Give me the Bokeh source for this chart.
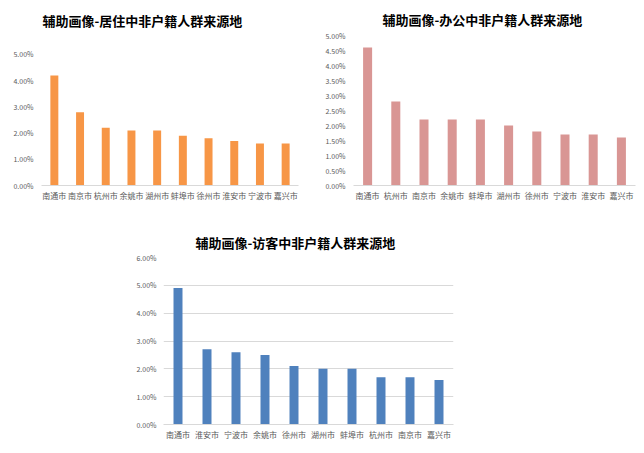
from bokeh.plotting import figure
from bokeh.layouts import column, row
from bokeh.models import (ColumnDataSource, FactorRange, Range1d, FixedTicker,
                          NumeralTickFormatter, Spacer, Title)
from bokeh.embed import file_html
from bokeh.resources import INLINE

# ---- data ----
title_live = "辅助画像-居住中非户籍人群来源地"
cities_live = ["南通市", "南京市", "杭州市", "余姚市", "湖州市", "蚌埠市", "徐州市", "淮安市", "宁波市", "嘉兴市"]
share_live = [0.042, 0.028, 0.022, 0.021, 0.021, 0.019, 0.018, 0.017, 0.016, 0.016]
ticks_live = [0.0, 0.01, 0.02, 0.03, 0.04, 0.05]

title_office = "辅助画像-办公中非户籍人群来源地"
cities_office = ["南通市", "杭州市", "南京市", "余姚市", "蚌埠市", "湖州市", "徐州市", "宁波市", "淮安市", "嘉兴市"]
share_office = [0.046, 0.028, 0.022, 0.022, 0.022, 0.020, 0.018, 0.017, 0.017, 0.016]
ticks_office = [0.0, 0.005, 0.01, 0.015, 0.02, 0.025, 0.03, 0.035, 0.04, 0.045, 0.05]

title_visit = "辅助画像-访客中非户籍人群来源地"
cities_visit = ["南通市", "淮安市", "宁波市", "余姚市", "徐州市", "湖州市", "蚌埠市", "杭州市", "南京市", "嘉兴市"]
share_visit = [0.049, 0.027, 0.026, 0.025, 0.021, 0.020, 0.020, 0.017, 0.017, 0.016]
ticks_visit = [0.0, 0.01, 0.02, 0.03, 0.04, 0.05, 0.06]

FONT = "Noto Sans CJK SC"


def make_chart(title, cats, vals, ticks, y_end, color, w, h, bl, br, bt, bb,
               t_off, t_stand, grid, ystand, bar_w):
    src = ColumnDataSource(dict(c=cats, v=vals))
    p = figure(width=w, height=h, output_backend="svg", toolbar_location=None,
               x_range=FactorRange(*cats, range_padding=0),
               y_range=Range1d(0, y_end),
               min_border_left=bl, min_border_right=br,
               min_border_top=bt, min_border_bottom=bb)
    p.title = Title(text=title, align="left", offset=t_off, standoff=t_stand,
                    text_font=FONT, text_font_size="13px", text_font_style="bold",
                    text_color="#000000")
    p.vbar(x="c", top="v", width=bar_w, source=src, color=color, line_color=None)
    p.outline_line_color = None
    p.background_fill_color = "white"
    p.border_fill_color = "white"
    p.xgrid.grid_line_color = None
    if grid:
        p.ygrid.grid_line_color = "#d9d9d9"
        p.ygrid.grid_line_width = 1
    else:
        p.ygrid.grid_line_color = None
    p.yaxis.ticker = FixedTicker(ticks=ticks)
    p.yaxis.formatter = NumeralTickFormatter(format="0.00%")
    p.yaxis.axis_line_color = None
    p.yaxis.major_tick_line_color = None
    p.yaxis.minor_tick_line_color = None
    p.yaxis.major_tick_out = 0
    p.yaxis.minor_tick_out = 0
    p.yaxis.major_label_text_font = FONT
    p.yaxis.major_label_text_font_size = "7px"
    p.yaxis.major_label_text_color = "#595959"
    p.yaxis.major_label_standoff = ystand
    p.xaxis.axis_line_color = "#d9d9d9"
    p.xaxis.major_tick_line_color = None
    p.xaxis.minor_tick_line_color = None
    p.xaxis.major_tick_out = 0
    p.xaxis.minor_tick_out = 0
    p.xaxis.major_label_text_font = FONT
    p.xaxis.major_label_text_font_size = "8px"
    p.xaxis.major_label_text_color = "#595959"
    p.xaxis.major_label_standoff = 4
    return p


p1 = make_chart(title_live, cities_live, share_live, ticks_live, 0.05725, "#F79646",
                320, 222, 41, 22, 35, 37, 1, 12, False, 8, 0.31)
p2 = make_chart(title_office, cities_office, share_office, ticks_office, 0.05, "#D99694",
                324, 222, 33, 9, 35, 37, 29, 13, False, 8, 0.32)
p3 = make_chart(title_visit, cities_visit, share_visit, ticks_visit, 0.06, "#4F81BD",
                350, 231, 43, 17, 35, 29, 32, 11, True, 7, 0.31)

layout = column(row(p1, p2), row(Spacer(width=120, height=231), p3))

open("out.html", "w").write(file_html(layout, INLINE))
